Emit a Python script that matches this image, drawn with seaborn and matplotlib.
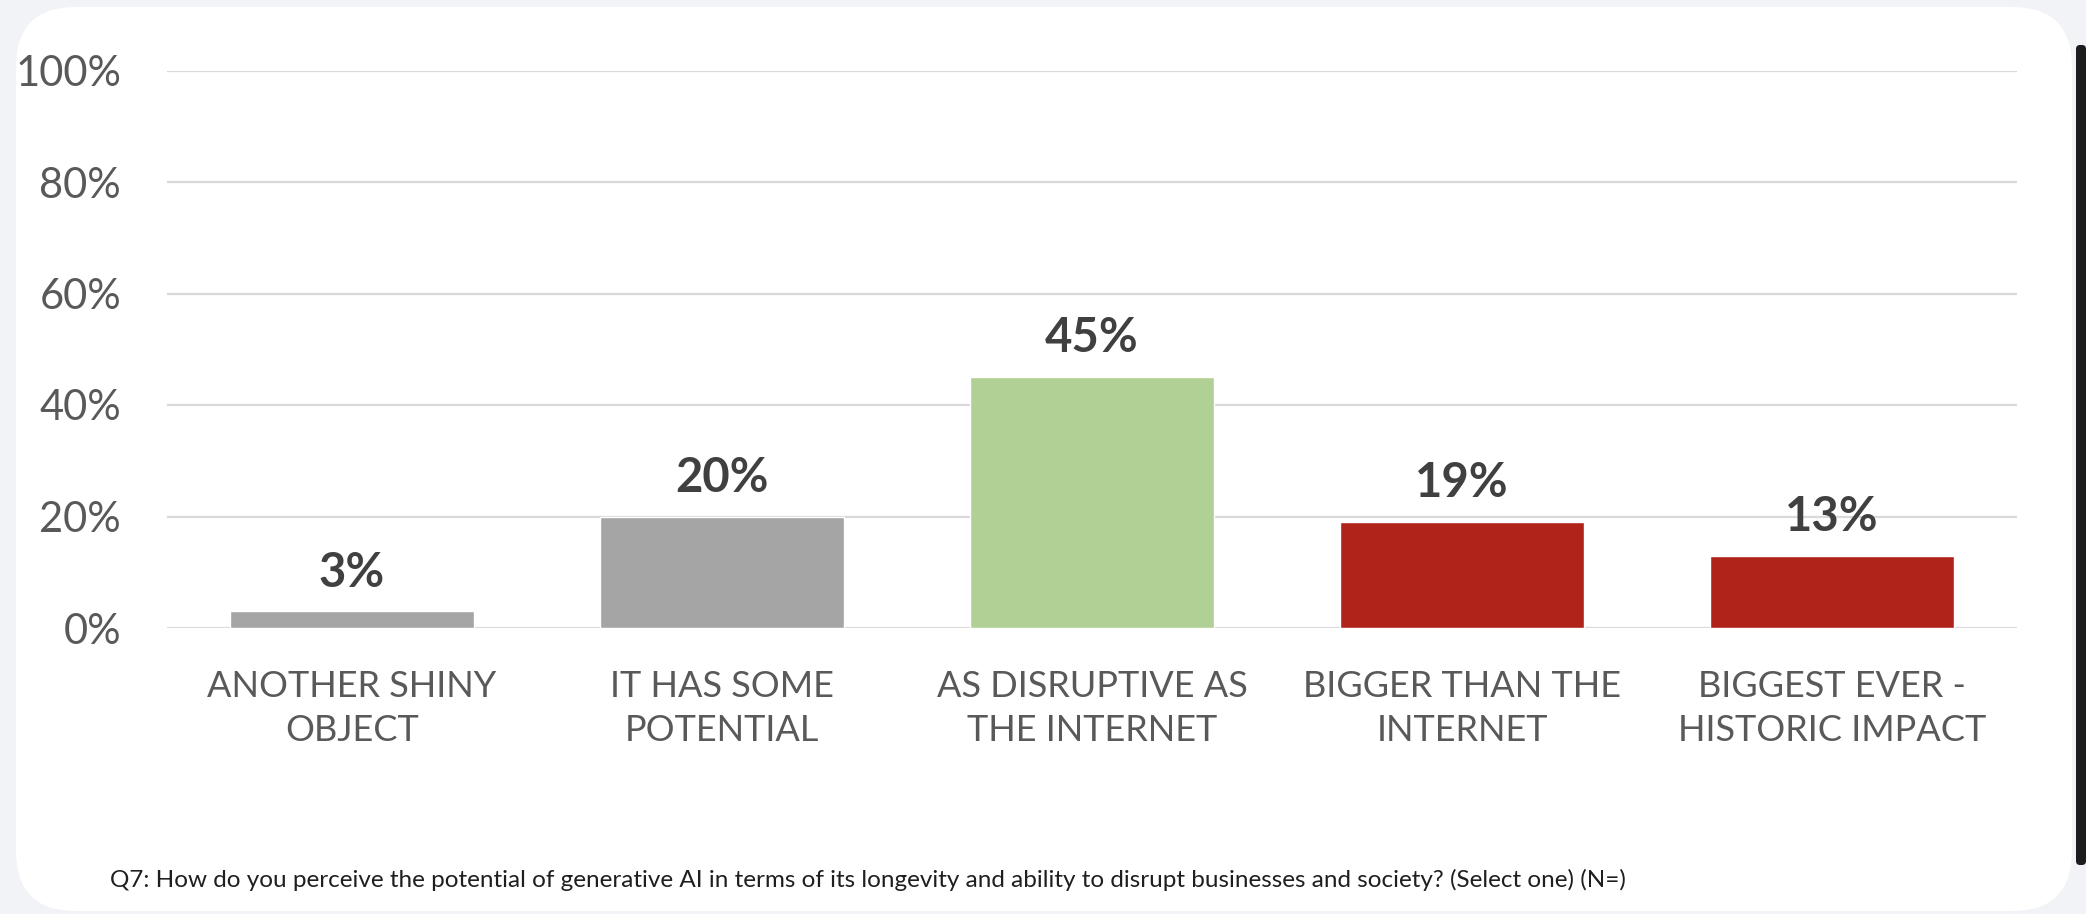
import matplotlib
matplotlib.use("Agg")
import matplotlib.pyplot as plt
from matplotlib.patches import FancyBboxPatch
from matplotlib.ticker import PercentFormatter
import seaborn as sns

# Survey answers and their shares (percent of respondents)
categories = [
    "ANOTHER SHINY\nOBJECT",
    "IT HAS SOME\nPOTENTIAL",
    "AS DISRUPTIVE AS\nTHE INTERNET",
    "BIGGER THAN THE\nINTERNET",
    "BIGGEST EVER -\nHISTORIC IMPACT",
]
shares = [3, 20, 45, 19, 13]
bar_colors = ["#A5A5A5", "#A5A5A5", "#B0D095", "#B0231A", "#B0231A"]
y_ticks = [0, 20, 40, 60, 80, 100]
footnote = ("Q7: How do you perceive the potential of generative AI in terms of its "
            "longevity and ability to disrupt businesses and society? (Select one) (N=)")

W, H = 2086, 914
sns.set_theme(style="white")
plt.rcParams["font.family"] = ["Lato", "DejaVu Sans"]

fig = plt.figure(figsize=(W / 100, H / 100), dpi=100)
fig.patch.set_facecolor("#F2F3F7")

# Background layer in pixel units: white rounded card and dark right edge
bg = fig.add_axes([0, 0, 1, 1], zorder=0)
bg.set_xlim(0, W)
bg.set_ylim(H, 0)
bg.axis("off")
bg.add_patch(FancyBboxPatch((16, 7), 2056, 904,
                            boxstyle="round,pad=0,rounding_size=60",
                            facecolor="white", edgecolor="none"))
bg.add_patch(FancyBboxPatch((2076, 45), 10, 820,
                            boxstyle="round,pad=0,rounding_size=4",
                            facecolor="#1C1C1E", edgecolor="none"))

# Main chart
left, right, y0, y100 = 167, 2017, 628, 70.5
ax = fig.add_axes([left / W, 1 - y0 / H, (right - left) / W, (y0 - y100) / H], zorder=1)
ax.patch.set_alpha(0)

sns.barplot(x=categories, y=shares, hue=categories, palette=bar_colors,
            width=0.66, saturation=1, legend=False, ax=ax)

for container in ax.containers:
    ax.bar_label(container, fmt="%g%%", padding=12, fontsize=34,
                 fontweight="bold", color="#404040")

ax.set_ylim(0, 100)
ax.set_xlim(-0.5, len(categories) - 0.5)
ax.set_yticks(y_ticks)
ax.yaxis.set_major_formatter(PercentFormatter(decimals=0))
ax.yaxis.grid(True, color="#D9D9D9", linewidth=1.6)
ax.set_axisbelow(True)
for s in ax.spines.values():
    s.set_visible(False)
ax.set_xlabel("")
ax.set_ylabel("")
ax.tick_params(axis="y", length=0, pad=33, labelsize=30, labelcolor="#595959")
ax.tick_params(axis="x", length=0, pad=30, labelsize=26, labelcolor="#595959")
for lbl in ax.get_xticklabels():
    lbl.set_linespacing(1.42)

fig.text(110 / W, 1 - 887 / H, footnote, fontsize=17.5, color="#1F1F1F",
         va="baseline", ha="left")

fig.savefig("out.png", dpi=100, facecolor=fig.get_facecolor())
